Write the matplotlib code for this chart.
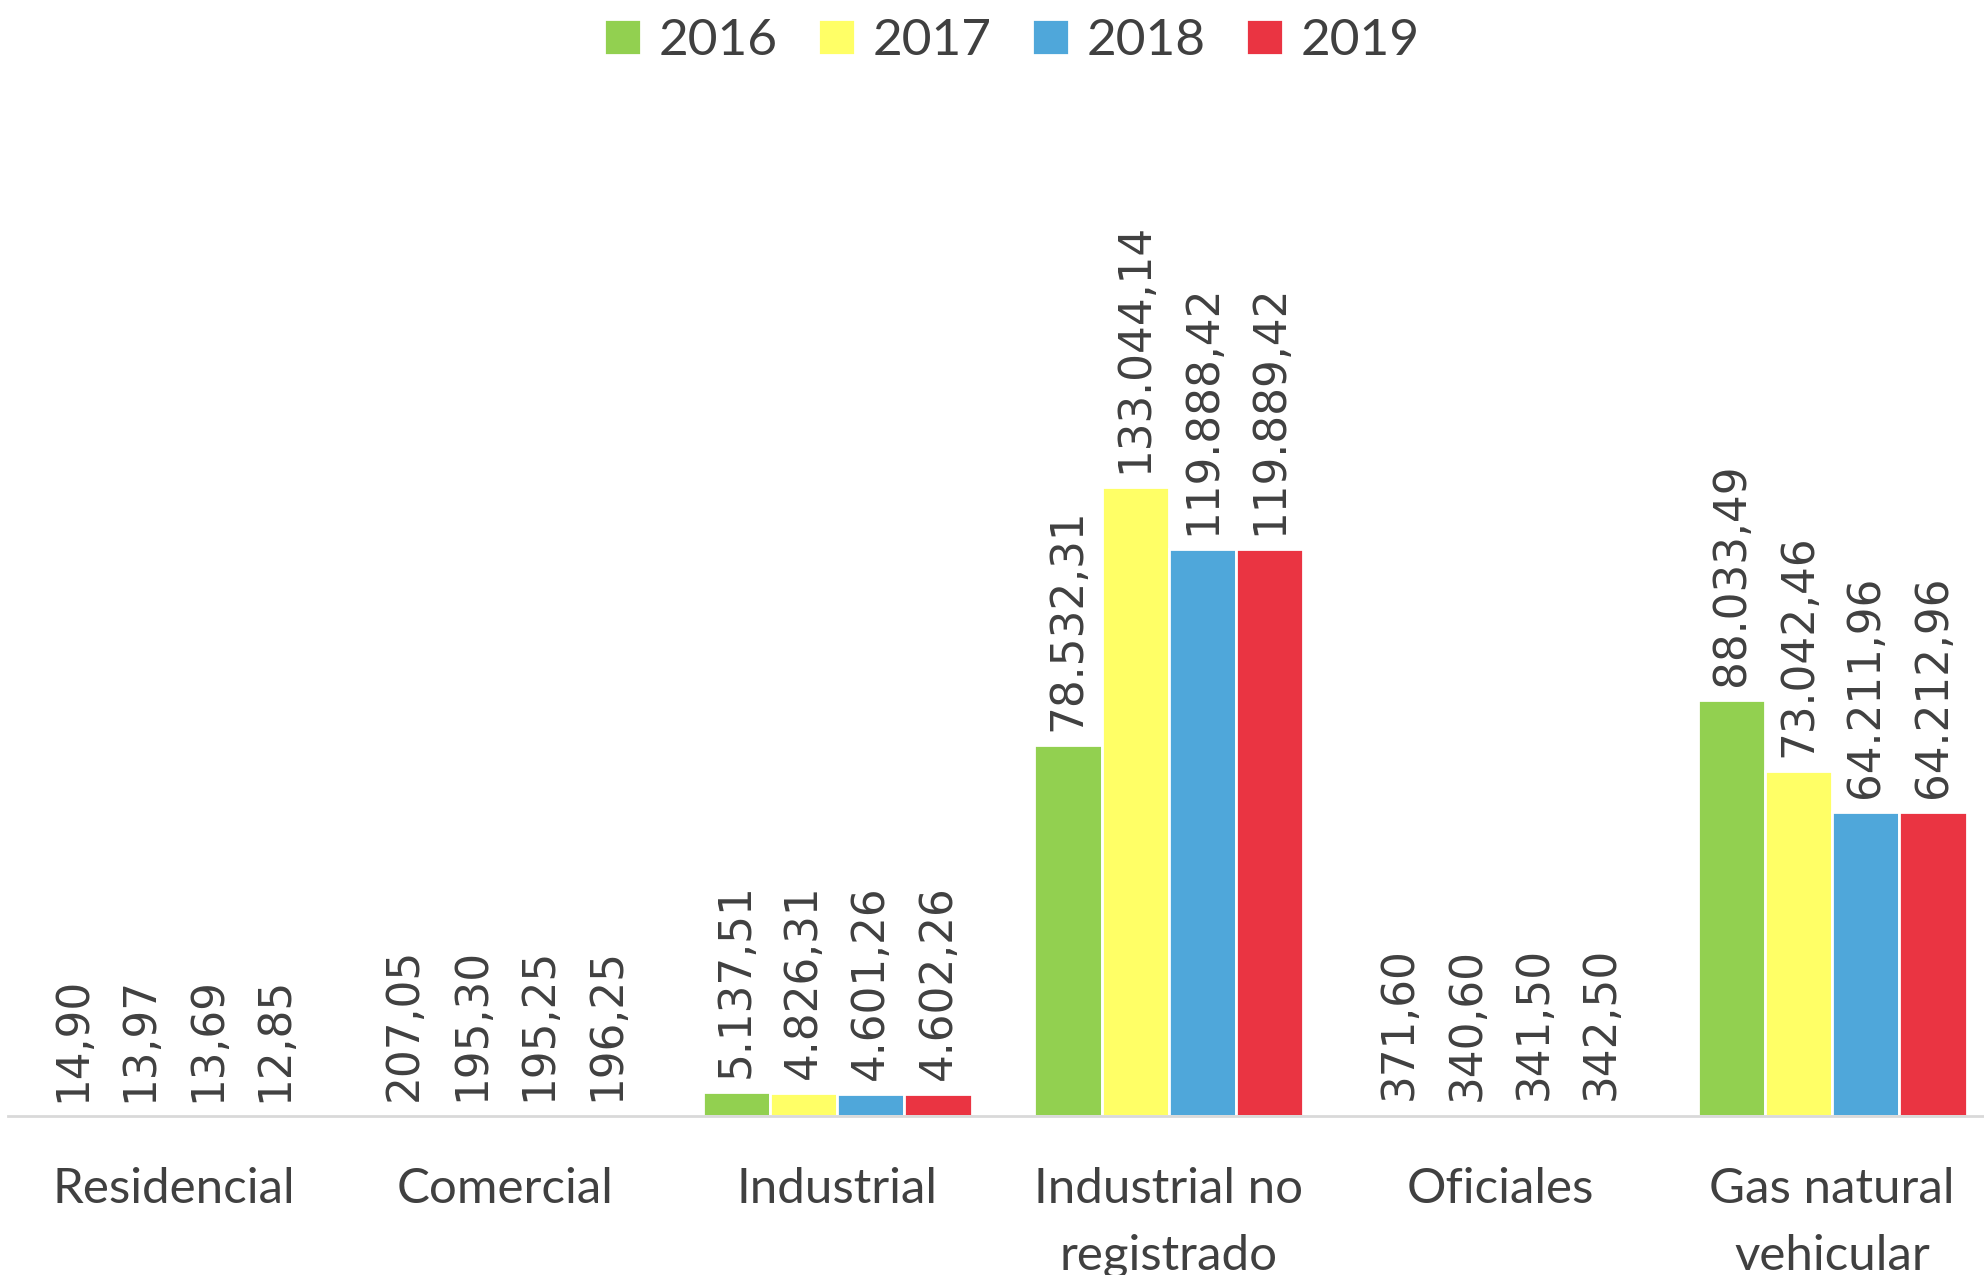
import matplotlib
matplotlib.use("Agg")
import matplotlib.pyplot as plt
import numpy as np

categories = ["Residencial", "Comercial", "Industrial", "Industrial no\nregistrado", "Oficiales", "Gas natural\nvehicular"]
years = ["2016", "2017", "2018", "2019"]
v2016 = [14.90, 207.05, 5137.51, 78532.31, 371.60, 88033.49]
v2017 = [13.97, 195.30, 4826.31, 133044.14, 340.60, 73042.46]
v2018 = [13.69, 195.25, 4601.26, 119888.42, 341.50, 64211.96]
v2019 = [12.85, 196.25, 4602.26, 119889.42, 342.50, 64212.96]
series = [v2016, v2017, v2018, v2019]
colors = ["#92D050", "#FFFF66", "#4FA7DA", "#EA3442"]

W, H = 1984, 1275
fig = plt.figure(figsize=(W / 100, H / 100), dpi=100)
left_px, right_px, bottom_px, top_px = 8, 1998, 1116, 100
ax = fig.add_axes([left_px / W, (H - bottom_px) / H, (right_px - left_px) / W, (bottom_px - top_px) / H])

def fmt(v):
    s = f"{v:,.2f}"
    return s.replace(",", "X").replace(".", ",").replace("X", ".")

x = np.arange(len(categories))
slot = 0.2027
txt = "#404040"
for i, (vals, c, y) in enumerate(zip(series, colors, years)):
    bars = ax.bar(x + (i - 1.5) * slot, vals, width=slot, color=c, edgecolor="white", linewidth=2, label=y)
    ax.bar_label(bars, labels=[fmt(v) for v in vals], rotation=90, padding=10,
                 fontsize=31.5, color=txt, family="DejaVu Sans")

ax.set_xlim(-0.5, len(categories) - 0.5)
ax.set_ylim(0, (bottom_px - top_px) / 0.00473)
for s in ["top", "left", "right"]:
    ax.spines[s].set_visible(False)
ax.spines["bottom"].set_color("#D9D9D9")
ax.spines["bottom"].set_linewidth(2)
ax.set_yticks([])
ax.set_xticks(x)
ax.set_xticklabels(categories, fontsize=35.5, color=txt, family="Lato", linespacing=1.62)
ax.tick_params(axis="x", length=0, pad=37)

fig.legend(loc="upper center", bbox_to_anchor=(0.51, 1.002), ncol=4, frameon=False,
           prop={"family": "Lato", "size": 37}, labelcolor=txt,
           handlelength=0.72, handleheight=0.72, handletextpad=0.35, columnspacing=0.78,
           borderaxespad=0.0)

fig.savefig("out.png", dpi=100)
